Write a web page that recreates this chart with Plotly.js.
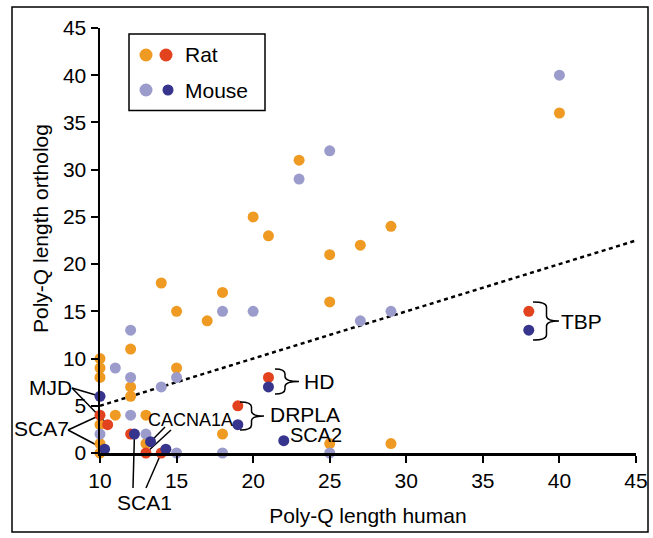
<!DOCTYPE html>
<html><head><meta charset="utf-8">
<script src="https://cdn.plot.ly/plotly-3.0.1.min.js"></script>
<style>html,body{margin:0;padding:0;background:#fff}</style>
</head><body><div id="chart" style="width:653px;height:538px"></div>
<script>
// ---- data (human poly-Q length vs ortholog length) ----
const ratX = [40,23,20,21,25,27,29,14,18,15,17,25,12,10,10,10,12,12,11,13,10,10,10,13,15,25,29,18];
const ratY = [36,31,25,23,21,22,24,18,17,15,14,16,11,10,9,8,7,6,4,4,3,1,0,1,9,1,1,2];
const mouseX = [40,25,23,18,20,27,29,12,11,12,15,14,12,10,13,15,18,25];
const mouseY = [40,32,29,15,15,14,15,13,9,8,8,7,4,2,2,0,0,0];
// highlighted disease genes
const ratHiX = [38,21,19,10,10.5,12,13,14];
const ratHiY = [15,8,5,4,3,2,0,0];
const mouseHiX = [38,21,19,22,10,10.3,12.25,13.3,14.3];
const mouseHiY = [13,7,3,1.3,6,0.4,2,1.2,0.4];
const refLineX = [10,45];
const refLineY = [5,22.5];
const xTicks = [10,15,20,25,30,35,40,45];
const yTicks = [0,5,10,15,20,25,30,35,40,45];
const legendNames = ['Rat','Mouse'];

// ---- layout geometry ----
const W = 653, H = 538;
const M = {l:100, r:17, t:28, b:85};
const PW = W - M.l - M.r, PH = H - M.t - M.b;
const XR = [10,45], YR = [0,45];
const pxX = p => (p - M.l) / PW;            // pixel -> paper
const pxY = p => (H - M.b - p) / PH;
const dX = v => (v - XR[0]) / (XR[1]-XR[0]); // data -> paper
const dY = v => (v - YR[0]) / (YR[1]-YR[0]);

const C = {rat:'#EF9A22', ratHi:'#E2431E', mouse:'#9C9CCC', mouseHi:'#36348C'};
const FONT = 'Liberation Sans, Arial, Helvetica, sans-serif';

function pts(x, y, color, name){
  return {type:'scatter', mode:'markers', x:x, y:y, name:name, showlegend:false,
    cliponaxis:false, hoverinfo:'x+y',
    marker:{color:color, size:11, opacity:1, line:{width:0}}};
}
const traces = [
  {type:'scatter', mode:'lines', x:refLineX, y:refLineY, showlegend:false, hoverinfo:'skip',
   line:{color:'#000', width:2.5, dash:'4px,3.5px'}},
  pts(ratX, ratY, C.rat, 'Rat'),
  pts(mouseX, mouseY, C.mouse, 'Mouse'),
  pts(ratHiX, ratHiY, C.ratHi, 'Rat (disease)'),
  pts(mouseHiX, mouseHiY, C.mouseHi, 'Mouse (disease)'),
  // legend swatches on a pixel-scaled overlay axis
  {type:'scatter', mode:'markers', xaxis:'x2', yaxis:'y2', x:[146,166], y:[55,55], showlegend:false,
   hoverinfo:'skip', cliponaxis:false, marker:{color:[C.rat,C.ratHi], size:13, opacity:1, line:{width:0}}},
  {type:'scatter', mode:'markers', xaxis:'x2', yaxis:'y2', x:[146], y:[90], showlegend:false,
   hoverinfo:'skip', cliponaxis:false, marker:{color:C.mouse, size:13, opacity:1, line:{width:0}}},
  {type:'scatter', mode:'markers', xaxis:'x2', yaxis:'y2', x:[168], y:[90], showlegend:false,
   hoverinfo:'skip', cliponaxis:false, marker:{color:C.mouseHi, size:11, opacity:1, line:{width:0}}}
];

// ---- annotations ----
const ann = [];
function label(text, cx, cy, size, angle){
  ann.push({xref:'paper', yref:'paper', x:pxX(cx), y:pxY(cy), text:text, showarrow:false,
    xanchor:'center', yanchor:'middle', textangle:angle||0,
    font:{family:FONT, size:size||21, color:'#000'}});
}
label('MJD', 50, 387);
label('SCA7', 41.5, 428.5);
label('SCA1', 144, 502);
label('CACNA1A', 190.5, 420, 18);
label('DRPLA', 305, 414);
label('SCA2', 316, 435, 20);
label('HD', 319, 381);
label('TBP', 581, 321);
label('Poly-Q length ortholog', 41, 229, 21, -90);
ann.push({xref:'paper', yref:'paper', x:pxX(183), y:pxY(55), text:legendNames[0], showarrow:false,
  xanchor:'left', yanchor:'middle', font:{family:FONT, size:21, color:'#000'}});
ann.push({xref:'paper', yref:'paper', x:pxX(183), y:pxY(90), text:legendNames[1], showarrow:false,
  xanchor:'left', yanchor:'middle', font:{family:FONT, size:21, color:'#000'}});

// ---- shapes ----
const shapes = [];
// outer frame
shapes.push({type:'rect', xref:'paper', yref:'paper', x0:pxX(12), x1:pxX(648), y0:pxY(7), y1:pxY(532),
  line:{color:'#000', width:1.5}, layer:'below'});
// legend box
shapes.push({type:'rect', xref:'paper', yref:'paper', x0:pxX(129), x1:pxX(265), y0:pxY(34), y1:pxY(110.5),
  line:{color:'#000', width:1.5}});
// leader lines: from label anchor (pixels) to a data point
function leader(lx, ly, xs, ys, i){
  shapes.push({type:'line', xref:'paper', yref:'paper', layer:'below',
    x0:pxX(lx), y0:pxY(ly), x1:dX(xs[i]), y1:dY(ys[i]), line:{color:'#000', width:1.5}});
}
leader(72, 388, mouseHiX, mouseHiY, 4);   // MJD mouse
leader(72, 388, ratHiX, ratHiY, 4);       // MJD rat
leader(68, 430, ratHiX, ratHiY, 3);       // SCA7 rat
leader(68, 430, mouseHiX, mouseHiY, 5);   // SCA7 mouse
leader(133, 488, mouseHiX, mouseHiY, 6);  // SCA1
leader(146, 488, ratHiX, ratHiY, 7);      // SCA1
leader(165, 427, mouseHiX, mouseHiY, 7);  // CACNA1A
leader(171, 430, ratHiX, ratHiY, 6);      // CACNA1A
// braces
function brace(xL, yT, yB, xS, xT){
  const yM = (yT + yB) / 2, r = 5;
  const P = (x, y) => pxX(x).toFixed(5) + ',' + pxY(y).toFixed(5);
  const d = 'M' + P(xL,yT) + ' Q' + P(xS,yT) + ' ' + P(xS,yT+r) +
            ' L' + P(xS,yM-r) + ' Q' + P(xS,yM) + ' ' + P(xT,yM) +
            ' Q' + P(xS,yM) + ' ' + P(xS,yM+r) +
            ' L' + P(xS,yB-r) + ' Q' + P(xS,yB) + ' ' + P(xL,yB);
  shapes.push({type:'path', xref:'paper', yref:'paper', path:d, line:{color:'#000', width:1.5}});
}
brace(275, 369, 394, 285, 299);   // HD
brace(240, 402, 430, 251.5, 264); // DRPLA
brace(533, 302, 340, 546.5, 559); // TBP

const axisCommon = {showgrid:false, zeroline:false, showline:true, linecolor:'#000', linewidth:2.5,
  ticks:'outside', ticklen:7, tickwidth:2, tickcolor:'#000', mirror:false,
  tickfont:{family:FONT, size:21, color:'#000'}, fixedrange:true};

const layout = {
  width:W, height:H, margin:M, paper_bgcolor:'#fff', plot_bgcolor:'#fff',
  showlegend:false, font:{family:FONT, color:'#000'},
  xaxis:Object.assign({}, axisCommon, {range:XR, tickvals:xTicks, ticktext:xTicks.map(String),
    title:{text:'Poly-Q length human', font:{family:FONT, size:21, color:'#000'}, standoff:18}}),
  yaxis:Object.assign({}, axisCommon, {range:YR, tickvals:yTicks, ticktext:yTicks.map(String)}),
  xaxis2:{overlaying:'x', range:[M.l, W-M.r], visible:false, fixedrange:true},
  yaxis2:{overlaying:'y', range:[H-M.b, M.t], visible:false, fixedrange:true},
  annotations:ann, shapes:shapes
};
Plotly.newPlot('chart', traces, layout, {displayModeBar:false, staticPlot:true});
</script></body></html>
